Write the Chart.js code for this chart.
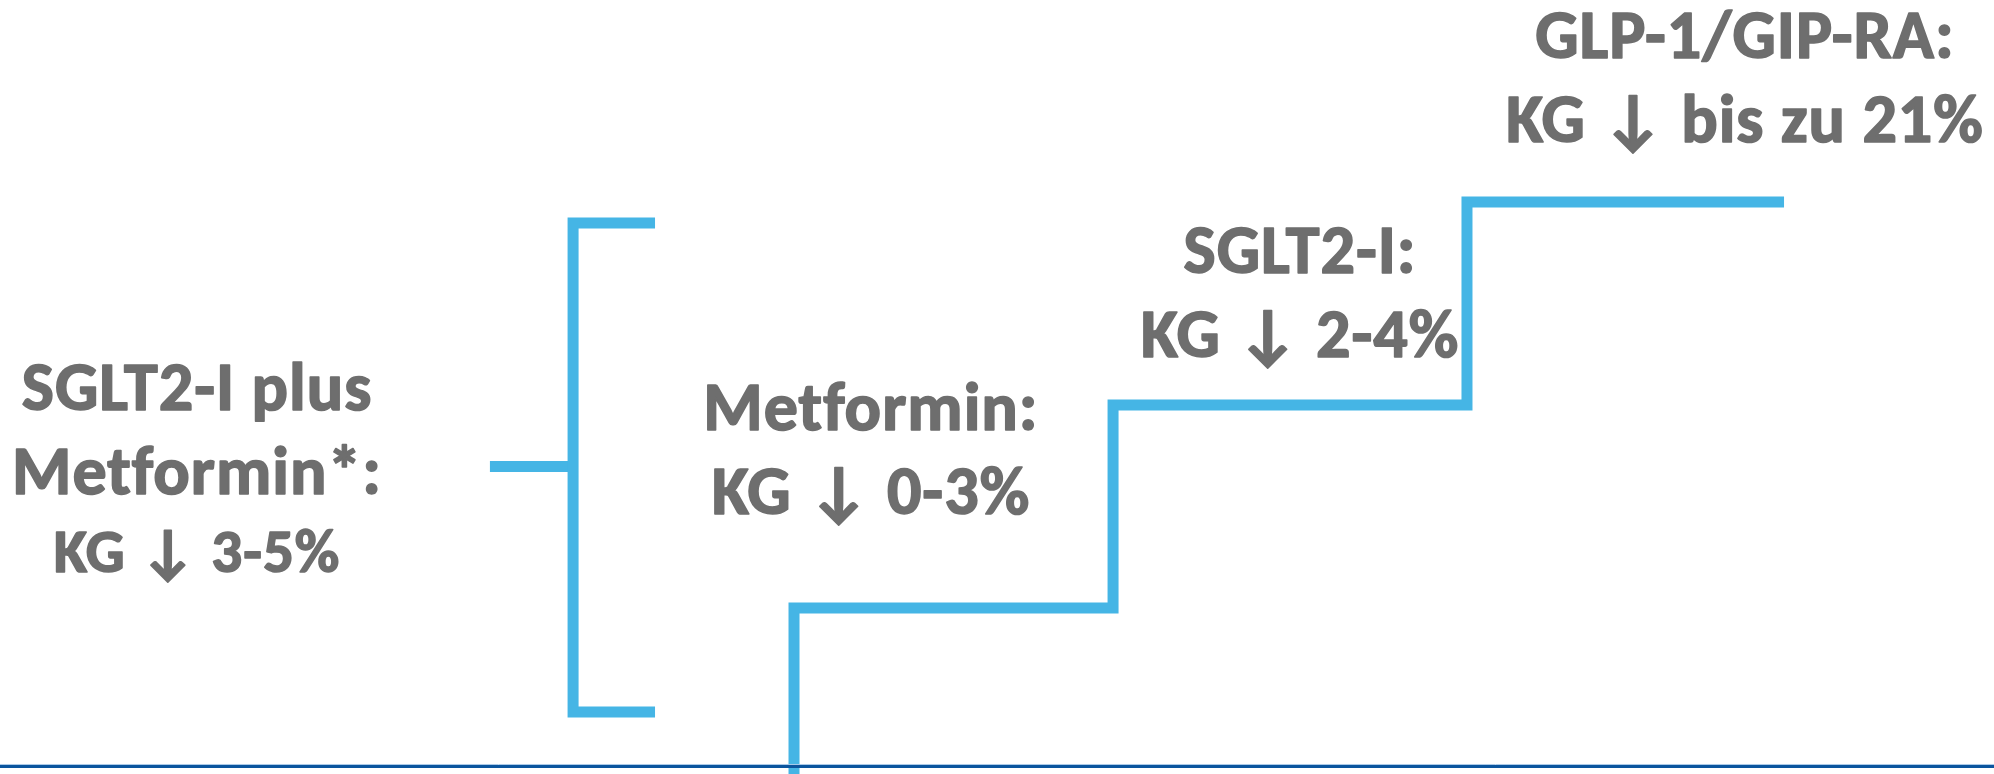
<!DOCTYPE html>
<html>
<head>
<meta charset="utf-8">
<script src="https://cdn.jsdelivr.net/npm/chart.js@4/dist/chart.umd.min.js"></script>
<style>
  html, body { margin: 0; padding: 0; background: #ffffff; }
  #wrap { position: relative; width: 1994px; height: 774px; }
</style>
</head>
<body>
<div id="wrap"><canvas id="c"></canvas></div>
<script>
// Stair of therapy steps: x = edge of each step, y = level reached
const stepEdges  = [39.82, 55.82, 73.57, 89.47];
const stepLevels = [-1, 21.45, 47.67, 73.9];

// Bracket for the combination therapy (left)
const bracketX    = [32.85, 28.74, 28.74, 32.85];
const bracketY    = [71.2, 71.2, 8.01, 8.01];
const bracketTipX = [24.57, 28.74];
const bracketTipY = 39.73;

// Baseline of the diagram
const baseX = [0, 100];
const baseY = 0.97;

// Labels: centre x, baseline y for each line, text lines
const labelX = [9.88, 43.68, 65.2, 87.51];
const labelLines = [
  ["SGLT2-I plus", "Metformin*:", "KG \u2193 3-5%"],
  ["Metformin:", "KG \u2193 0-3%"],
  ["SGLT2-I:", "KG \u2193 2-4%"],
  ["GLP-1/GIP-RA:", "KG \u2193 bis zu 21%"]
];
const labelBaselines = [
  [47.03, 36.18, 26.1],
  [44.44, 33.59],
  [64.73, 53.88],
  [92.51, 81.65]
];
const labelScale = [
  [1, 1, 0.9],
  [1, 1],
  [1, 1],
  [1, 1]
];

const BLUE = '#45b5e5';
const TEXT = '#6e6e6e';
const FONT = '"Carlito", "Lato", "Open Sans", sans-serif';
const FONT_SIZE = 68;

const stairData = stepEdges.map((x, i) => ({ x: x, y: stepLevels[i] }));
const bracketData = bracketX.map((x, i) => ({ x: x, y: bracketY[i] }));
const tipData = bracketTipX.map(x => ({ x: x, y: bracketTipY }));
const baseData = baseX.map(x => ({ x: x, y: baseY }));

const lineStyle = {
  showLine: true,
  pointRadius: 0,
  pointHoverRadius: 0,
  borderCapStyle: 'butt',
  borderJoinStyle: 'miter',
  tension: 0,
  fill: false
};

const labelPlugin = {
  id: 'stepLabels',
  afterDatasetsDraw(chart) {
    const ctx = chart.ctx;
    const xs = chart.scales.x, ys = chart.scales.y;
    ctx.save();
    ctx.fillStyle = TEXT;
    ctx.strokeStyle = TEXT;
    ctx.lineWidth = 1.6;
    ctx.lineJoin = 'round';
    ctx.textAlign = 'center';
    ctx.textBaseline = 'alphabetic';
    labelLines.forEach((lines, i) => {
      const cx = xs.getPixelForValue(labelX[i]);
      lines.forEach((t, j) => {
        const size = Math.round(FONT_SIZE * labelScale[i][j]);
        ctx.font = 'bold ' + size + 'px ' + FONT;
        ctx.letterSpacing = '1px';
        const y = ys.getPixelForValue(labelBaselines[i][j]);
        ctx.fillText(t, cx, y);
        ctx.strokeText(t, cx, y);
      });
    });
    ctx.restore();
  }
};

new Chart(document.getElementById('c'), {
  type: 'scatter',
  data: {
    datasets: [
      Object.assign({ label: 'Basis hell', data: baseX.map(x => ({ x: x, y: baseY + 0.26 })), borderColor: '#a9c9e8', borderWidth: 1 }, lineStyle),
      Object.assign({ label: 'Basis', data: baseData, borderColor: '#0b559e', borderWidth: 3 }, lineStyle),
      Object.assign({ label: 'Stufen', data: stairData, borderColor: BLUE, borderWidth: 11, stepped: 'after' }, lineStyle),
      Object.assign({ label: 'Klammer', data: bracketData, borderColor: BLUE, borderWidth: 11 }, lineStyle),
      Object.assign({ label: 'Klammer Spitze', data: tipData, borderColor: BLUE, borderWidth: 11 }, lineStyle)
    ]
  },
  options: {
    responsive: true,
    maintainAspectRatio: false,
    animation: false,
    devicePixelRatio: 1,
    layout: { padding: 0 },
    plugins: { legend: { display: false }, tooltip: { enabled: false } },
    scales: {
      x: { type: 'linear', min: 0, max: 100, display: false },
      y: { type: 'linear', min: 0, max: 100, display: false }
    }
  },
  plugins: [labelPlugin]
});
</script>
</body>
</html>
